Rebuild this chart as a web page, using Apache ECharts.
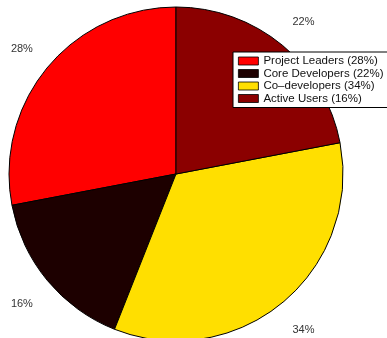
<!DOCTYPE html>
<html>
<head>
<meta charset="utf-8">
<script src="https://cdn.jsdelivr.net/npm/echarts@6/dist/echarts.min.js"></script>
<style>
  html, body { margin: 0; padding: 0; background: #fff; }
  #chart { width: 387px; height: 338px; }
</style>
</head>
<body>
<div id="chart"></div>
<script>
// Slice shares, counter-clockwise from 12 o'clock
const legendNames = ['Project Leaders (28%)', 'Core Developers (22%)', 'Co\u2013developers (34%)', 'Active Users (16%)'];
const shares = [28, 16, 34, 22];
const colors = ['#ff0000', '#1d0000', '#ffdf00', '#8b0000'];

const chart = echarts.init(document.getElementById('chart'), null, { renderer: 'canvas' });

const center = [176, 174];
const R = 167;

const sliceData = legendNames.map((n, i) => ({ name: n, value: shares[i], itemStyle: { color: colors[i] } }));
const labelData = legendNames.map((n, i) => ({ name: n, value: shares[i] }));

chart.setOption({
  animation: false,
  backgroundColor: '#ffffff',
  legend: {
    orient: 'vertical',
    left: 233,
    top: 52,
    width: 160,
    padding: [3, 20, 3, 5],
    itemGap: 0.5,
    itemWidth: 20,
    itemHeight: 8,
    icon: 'rect',
    backgroundColor: '#ffffff',
    borderColor: '#000000',
    borderWidth: 1,
    borderRadius: 0,
    selectedMode: false,
    data: legendNames,
    itemStyle: { borderColor: '#000', borderWidth: 0.8 },
    textStyle: { fontFamily: 'Liberation Sans, Arial, sans-serif', fontSize: 11.5, lineHeight: 12, color: '#111', padding: [0, 0, 0, 0] }
  },
  series: [
    {
      type: 'pie',
      center: center,
      radius: [0, R],
      startAngle: 90,
      clockwise: false,
      silent: true,
      label: { show: false },
      labelLine: { show: false },
      itemStyle: { borderColor: '#000', borderWidth: 1 },
      data: sliceData
    },
    {
      // percentage labels set just outside the rim
      type: 'pie',
      center: [center[0], center[1] + 2],
      radius: [189, 205],
      startAngle: 90,
      clockwise: false,
      silent: true,
      avoidLabelOverlap: false,
      itemStyle: { color: 'rgba(0,0,0,0)', borderWidth: 0 },
      label: {
        show: true,
        position: 'inside',
        formatter: '{d}%',
        color: '#333',
        fontFamily: 'Liberation Sans, Arial, sans-serif',
        fontSize: 11
      },
      labelLine: { show: false },
      data: labelData
    }
  ]
});
</script>
</body>
</html>
